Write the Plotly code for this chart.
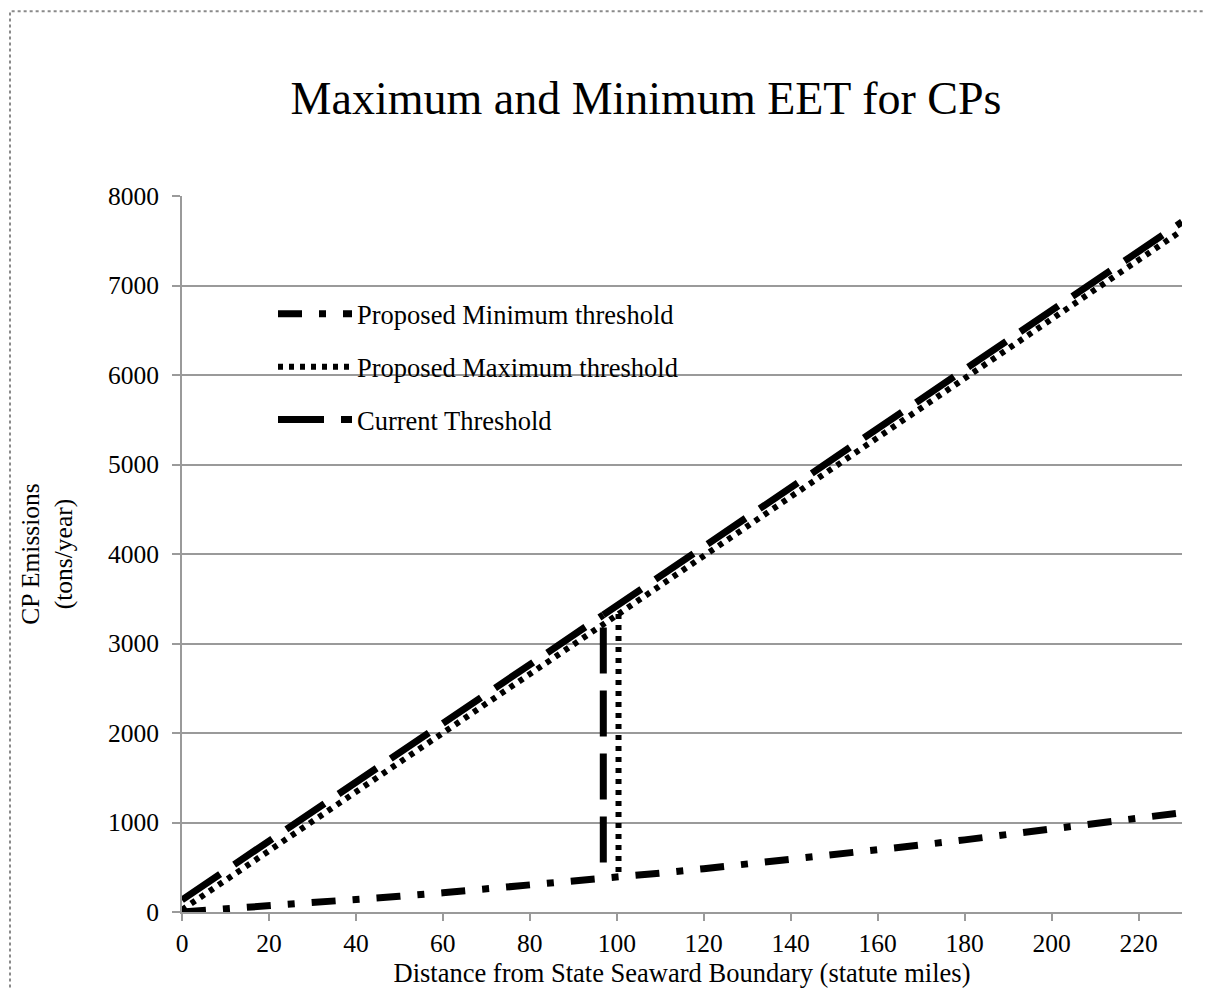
import plotly.graph_objects as go

# ---- data ----
min_distance = [0, 10, 20, 30, 40, 50, 60, 70, 80, 90, 100, 110, 120, 130, 140,
                150, 160, 170, 180, 190, 200, 210, 220, 230]
min_threshold = [0, 32, 66, 101, 138, 176, 215, 256, 299, 343, 388, 435, 484, 534,
                 585, 638, 693, 749, 806, 865, 925, 987, 1050, 1110]

max_distance = [0, 100.4, None, 100.4, 100.4, None, 100.4, 230]
max_threshold = [25, 3330, None, 3330, 385, None, 3330, 7615]

current_distance = [0, 96.9, None, 96.9, 96.9, None, 96.9, 230]
current_threshold = [135, 3320, None, 3180, 430, None, 3320, 7710]

x_ticks = [0, 20, 40, 60, 80, 100, 120, 140, 160, 180, 200, 220]
y_ticks = [0, 1000, 2000, 3000, 4000, 5000, 6000, 7000, 8000]

FONT = "Liberation Serif"
GRID = "#9a9a9a"

fig = go.Figure()
fig.add_trace(go.Scatter(
    x=min_distance, y=min_threshold, mode="lines",
    name="Proposed Minimum threshold", legend="legend", showlegend=True,
    line=dict(color="black", width=7, dash="24px,17px,7px,17px"),
))
fig.add_trace(go.Scatter(
    x=max_distance, y=max_threshold, mode="lines",
    name="Proposed Maximum threshold", legend="legend2", showlegend=True,
    line=dict(color="black", width=6, dash="5px,6px"),
))
fig.add_trace(go.Scatter(
    x=current_distance, y=current_threshold, mode="lines",
    name="Current Threshold", legend="legend3", showlegend=True,
    line=dict(color="black", width=7, dash="46px,17px"),
))

legend_common = dict(
    x=0.091, xanchor="left", yanchor="middle", itemwidth=74,
    font=dict(family=FONT, size=26.5, color="black"),
    bgcolor="rgba(0,0,0,0)", borderwidth=0,
)

# page body has an 8px margin, so the figure is shifted by (8, 8) in the window
fig.update_layout(
    width=1204, height=980,
    margin=dict(l=174, r=30, t=188, b=72),
    paper_bgcolor="white", plot_bgcolor="white",
    showlegend=True,
    font=dict(family=FONT, color="black"),
    title=dict(text="Maximum and Minimum EET for CPs",
               font=dict(family=FONT, size=46, color="black"),
               x=(646 - 8) / 1204, xref="container", xanchor="center",
               y=1 - (98 - 8) / 980, yref="container", yanchor="middle"),
    legend=dict(y=0.835, **legend_common),
    legend2=dict(y=0.761, **legend_common),
    legend3=dict(y=0.6875, **legend_common),
    xaxis=dict(
        range=[0, 230], tickvals=x_ticks, ticktext=[str(v) for v in x_ticks],
        showgrid=False, zeroline=False,
        showline=True, linecolor=GRID, linewidth=2,
        ticks="outside", ticklen=7, tickwidth=2, tickcolor=GRID,
        tickfont=dict(family=FONT, size=25.5, color="black"),
        title=dict(text="Distance from State Seaward Boundary (statute miles)",
                   font=dict(family=FONT, size=26.5, color="black"), standoff=0),
    ),
    yaxis=dict(
        range=[0, 8000], tickvals=y_ticks, ticktext=[str(v) for v in y_ticks],
        showgrid=True, gridcolor=GRID, gridwidth=2, zeroline=False,
        showline=True, linecolor=GRID, linewidth=2,
        ticks="outside", ticklen=8, tickwidth=2, tickcolor=GRID,
        ticklabelstandoff=8,
        tickfont=dict(family=FONT, size=25.5, color="black"),
        title=dict(text="CP Emissions<br>(tons/year)",
                   font=dict(family=FONT, size=25.5, color="black"), standoff=28),
    ),
    shapes=[dict(type="rect", xref="paper", yref="paper",
                 x0=-0.172, x1=1.05, y0=-0.12, y1=1.258,
                 line=dict(color="#8a8a8a", width=2, dash="dot"),
                 layer="below")],
)

fig.write_html("out.html")
